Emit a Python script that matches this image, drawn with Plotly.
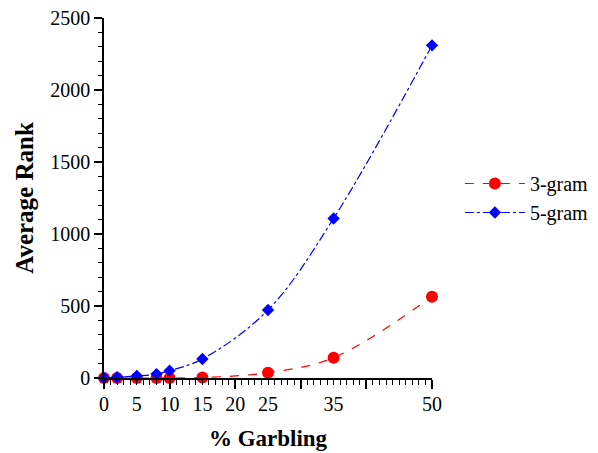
import plotly.graph_objects as go

garbling = [0, 2, 5, 8, 10, 15, 25, 35, 50]
rank_3gram = [0, 0, 0, 0, 0, 3, 37, 141, 565]
rank_5gram = [0, 5, 14, 27, 51, 132, 472, 1108, 2310]
x_tick_labels = [0, 5, 10, 15, 20, 25, 35, 50]

FONT = "Liberation Serif, Times New Roman, serif"

fig = go.Figure()
fig.add_trace(go.Scatter(
    x=garbling, y=rank_3gram, name="3-gram", mode="lines+markers",
    line=dict(color="red", dash="dash", width=1.2, shape="spline"),
    marker=dict(symbol="circle", size=12, color="red"),
    cliponaxis=False,
))
fig.add_trace(go.Scatter(
    x=garbling, y=rank_5gram, name="5-gram", mode="lines+markers",
    line=dict(color="blue", dash="dashdot", width=1.2, shape="spline"),
    marker=dict(symbol="diamond", size=9.5, color="blue"),
    cliponaxis=False,
))
# invisible trace to anchor the label axis
fig.add_trace(go.Scatter(x=[0, 50], y=[0, 0], xaxis="x2", mode="markers",
                         marker=dict(opacity=0), showlegend=False, hoverinfo="skip"))

fig.update_layout(
    width=590, height=445,
    margin=dict(l=96, r=166, t=10, b=75, autoexpand=False),
    paper_bgcolor="white", plot_bgcolor="white",
    font=dict(family=FONT, size=20, color="black"),
    showlegend=True,
    legend=dict(x=1.085, y=0.5, xanchor="left", yanchor="middle",
                font=dict(family=FONT, size=20), bgcolor="rgba(0,0,0,0)",
                tracegroupgap=0, itemwidth=60),
    xaxis=dict(
        range=[0, 50], tickmode="linear", tick0=0, dtick=10,
        showticklabels=False, ticks="outside", ticklen=9, tickwidth=1.5,
        tickcolor="black", showline=True, linecolor="black", linewidth=1.5,
        showgrid=False, zeroline=False, automargin=False,
        minor=dict(dtick=1, ticks="outside", ticklen=5, tickwidth=1.2,
                   tickcolor="black", showgrid=False),
    ),
    xaxis2=dict(
        range=[0, 50], overlaying="x", anchor="y", side="bottom",
        tickmode="array", tickvals=x_tick_labels, ticktext=[str(v) for v in x_tick_labels],
        ticks="outside", ticklen=8, tickcolor="rgba(0,0,0,0)",
        showline=False, showgrid=False, zeroline=False, automargin=False,
        tickfont=dict(family=FONT, size=20), ticklabeloverflow="allow",
        title=dict(text="<b>% Garbling</b>", font=dict(family=FONT, size=23), standoff=15),
    ),
    yaxis=dict(
        range=[0, 2500], tickmode="linear", tick0=0, dtick=500,
        ticks="outside", ticklen=8, tickwidth=1.5, tickcolor="black",
        showline=True, linecolor="black", linewidth=1.5,
        showgrid=False, zeroline=False, automargin=False,
        minor=dict(dtick=100, ticks="outside", ticklen=4, tickwidth=1.2,
                   tickcolor="black", showgrid=False),
        tickfont=dict(family=FONT, size=20), ticklabeloverflow="allow",
        title=dict(text="<b>Average Rank</b>", font=dict(family=FONT, size=25), standoff=10),
    ),
)

fig.write_html("out.html")
